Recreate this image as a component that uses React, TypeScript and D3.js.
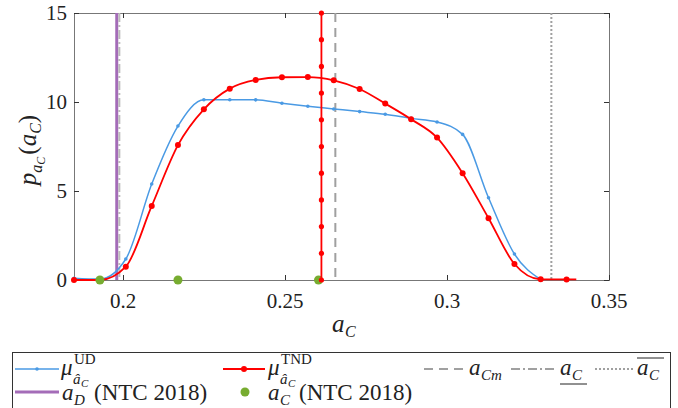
import React, { useEffect, useRef } from "react";
import * as d3 from "d3";

// a_C grid where the markers sit
const udX = [0.1848, 0.1928, 0.2008, 0.2088, 0.2169, 0.2249, 0.2329, 0.2409, 0.249, 0.257, 0.265, 0.273, 0.2809, 0.2889, 0.2969, 0.3048, 0.3128, 0.3208, 0.3289];
const udY = [0.1, 0.05, 1.18, 5.39, 8.65, 10.13, 10.13, 10.12, 9.93, 9.76, 9.61, 9.46, 9.31, 9.08, 8.88, 8.18, 4.62, 1.46, 0.03];

const tndX = [0.1848, 0.1928, 0.2008, 0.2088, 0.2169, 0.2249, 0.2329, 0.2409, 0.249, 0.257, 0.265, 0.273, 0.2809, 0.2889, 0.2969, 0.3048, 0.3128, 0.3208, 0.3289, 0.3369, 0.3399];
const tndY = [0, 0, 0.75, 4.16, 7.58, 9.59, 10.75, 11.24, 11.39, 11.4, 11.22, 10.73, 9.91, 9.03, 8.0, 6.0, 3.47, 0.9, 0.04, 0.03, 0.03];

// vertical red line (mean of TND)
const tndMeanX = 0.2612;
const tndMeanY = [0, 1.5, 3, 4.5, 6, 7.5, 9, 10.5, 12, 13.5, 15];

const ntcAc = [0.1928, 0.2169, 0.2603];
const ntcAd = 0.198;
const aCm = 0.2655;
const aCLow = 0.1988;
const aCHigh = 0.3322;

const xTicks = [0.2, 0.25, 0.3, 0.35];
const xTickLabels = ["0.2", "0.25", "0.3", "0.35"];
const yTicks = [0, 5, 10, 15];

const BLUE = "#4a9ae4";
const RED = "#ff0000";
const PURPLE = "#a46cb8";
const GREEN = "#77ac30";
const GRAY = "#a0a0a0";
const FONT = "Liberation Serif, DejaVu Serif, serif";

const App = () => {
  const svgRef = useRef(null);

  useEffect(() => {
    const svg = d3.select(svgRef.current);
    svg.selectAll("*").remove();

    const left = 74, right = 609, top = 13, bottom = 280;
    const x = d3.scaleLinear().domain([0.1848, 0.35]).range([left, right]);
    const y = d3.scaleLinear().domain([0, 15]).range([bottom, top]);

    const txt = (g, px, py, s, size, italic = false, anchor = "start") =>
      g.append("text")
        .attr("x", px).attr("y", py)
        .style("font-family", FONT)
        .style("font-size", size + "px")
        .style("font-style", italic ? "italic" : "normal")
        .attr("text-anchor", anchor)
        .attr("fill", "#222")
        .text(s);

    // axes box
    svg.append("rect")
      .attr("x", left + 0.5).attr("y", top + 0.5)
      .attr("width", right - left).attr("height", bottom - top)
      .attr("fill", "white").attr("stroke", "#777").attr("stroke-width", 1);

    // ticks (inside, both sides)
    xTicks.forEach((t, i) => {
      const px = Math.round(x(t)) + 0.5;
      svg.append("line").attr("x1", px).attr("x2", px).attr("y1", bottom).attr("y2", bottom - 5).attr("stroke", "#333");
      svg.append("line").attr("x1", px).attr("x2", px).attr("y1", top).attr("y2", top + 5).attr("stroke", "#333");
      txt(svg, x(t), 308, xTickLabels[i], 21, false, "middle");
    });
    yTicks.forEach((t) => {
      const py = Math.round(y(t)) + 0.5;
      svg.append("line").attr("x1", left).attr("x2", left + 5).attr("y1", py).attr("y2", py).attr("stroke", "#333");
      svg.append("line").attr("x1", right).attr("x2", right - 5).attr("y1", py).attr("y2", py).attr("stroke", "#333");
      txt(svg, 67, y(t) + 7, String(t), 21, false, "end");
    });

    // axis labels
    const xl = svg.append("g");
    txt(xl, 332, 332, "a", 25, true);
    txt(xl, 345, 337, "C", 16, true);

    const yl = svg.append("g").attr("transform", "translate(36,150) rotate(-90)");
    const yt = yl.append("text").style("font-family", FONT).style("font-size", "25px").attr("fill", "#222").attr("text-anchor", "middle");
    yt.append("tspan").style("font-style", "italic").text("p");
    yt.append("tspan").style("font-style", "italic").style("font-size", "16px").attr("dy", 6).text("a");
    yt.append("tspan").style("font-style", "italic").style("font-size", "12px").attr("dy", 3).text("C");
    yt.append("tspan").attr("dy", -9).attr("dx", 2).text("(");
    yt.append("tspan").style("font-style", "italic").text("a");
    yt.append("tspan").style("font-style", "italic").style("font-size", "16px").attr("dy", 5).text("C");
    yt.append("tspan").attr("dy", -5).text(")");

    // vertical reference lines
    svg.append("line").attr("x1", x(ntcAd)).attr("x2", x(ntcAd)).attr("y1", top).attr("y2", bottom)
      .attr("stroke", PURPLE).attr("stroke-width", 3);
    svg.append("line").attr("x1", x(aCLow)).attr("x2", x(aCLow)).attr("y1", top).attr("y2", bottom)
      .attr("stroke", "#bbb").attr("stroke-width", 2).attr("stroke-dasharray", "9,3,2,3");
    svg.append("line").attr("x1", x(aCm)).attr("x2", x(aCm)).attr("y1", top).attr("y2", bottom)
      .attr("stroke", GRAY).attr("stroke-width", 2).attr("stroke-dasharray", "9,6");
    svg.append("line").attr("x1", x(aCHigh)).attr("x2", x(aCHigh)).attr("y1", top).attr("y2", bottom)
      .attr("stroke", GRAY).attr("stroke-width", 2).attr("stroke-dasharray", "2,2");

    // density curves
    const line = d3.line().x((d) => x(d[0])).y((d) => y(d[1])).curve(d3.curveMonotoneX);
    const ud = udX.map((v, i) => [v, udY[i]]);
    const tnd = tndX.map((v, i) => [v, tndY[i]]);

    svg.append("path").attr("d", line(ud)).attr("fill", "none").attr("stroke", BLUE).attr("stroke-width", 1.5);
    svg.selectAll(".ud").data(ud).enter().append("circle")
      .attr("cx", (d) => x(d[0])).attr("cy", (d) => y(d[1])).attr("r", 1.8).attr("fill", BLUE);

    svg.append("path").attr("d", line(tnd)).attr("fill", "none").attr("stroke", RED).attr("stroke-width", 1.8);
    svg.selectAll(".tnd").data(tnd.slice(0, -1)).enter().append("circle")
      .attr("cx", (d) => x(d[0])).attr("cy", (d) => y(d[1])).attr("r", 3).attr("fill", RED);

    // NTC 2018 a_C points
    svg.selectAll(".ntc").data(ntcAc).enter().append("circle")
      .attr("cx", (d) => x(d)).attr("cy", y(0)).attr("r", 4.5).attr("fill", GREEN);

    // mean of TND
    svg.append("line").attr("x1", x(tndMeanX)).attr("x2", x(tndMeanX)).attr("y1", y(0)).attr("y2", y(15))
      .attr("stroke", RED).attr("stroke-width", 1.8);
    svg.selectAll(".tm").data(tndMeanY).enter().append("circle")
      .attr("cx", x(tndMeanX)).attr("cy", (d) => y(d)).attr("r", 2.6).attr("fill", RED);

    // legend
    const lg = svg.append("g");
    lg.append("rect").attr("x", 12.5).attr("y", 352.5).attr("width", 658).attr("height", 80)
      .attr("fill", "white").attr("stroke", "#333");
    const r1 = 369, r2 = 392, b1 = 375, b2 = 400;

    lg.append("line").attr("x1", 15).attr("x2", 59).attr("y1", r1).attr("y2", r1).attr("stroke", BLUE).attr("stroke-width", 1.5);
    lg.append("circle").attr("cx", 37).attr("cy", r1).attr("r", 1.8).attr("fill", BLUE);
    txt(lg, 61, b1, "μ", 23, true);
    txt(lg, 74, b1 - 11, "UD", 15);
    txt(lg, 73, b1 + 9, "â", 15, true);
    txt(lg, 81, b1 + 12, "C", 11, true);

    lg.append("line").attr("x1", 223).attr("x2", 265).attr("y1", r1).attr("y2", r1).attr("stroke", RED).attr("stroke-width", 1.8);
    lg.append("circle").attr("cx", 244).attr("cy", r1).attr("r", 3).attr("fill", RED);
    txt(lg, 268, b1, "μ", 23, true);
    txt(lg, 281, b1 - 11, "TND", 15);
    txt(lg, 280, b1 + 9, "â", 15, true);
    txt(lg, 288, b1 + 12, "C", 11, true);

    lg.append("line").attr("x1", 424).attr("x2", 466).attr("y1", r1).attr("y2", r1).attr("stroke", GRAY).attr("stroke-width", 2).attr("stroke-dasharray", "9,6");
    txt(lg, 469, b1, "a", 23, true);
    txt(lg, 481, b1 + 5, "Cm", 15, true);

    lg.append("line").attr("x1", 511).attr("x2", 557).attr("y1", r1).attr("y2", r1).attr("stroke", GRAY).attr("stroke-width", 2).attr("stroke-dasharray", "9,3,2,3");
    txt(lg, 560, b1, "a", 23, true);
    txt(lg, 572, b1 + 5, "C", 15, true);
    lg.append("line").attr("x1", 560).attr("x2", 587).attr("y1", b1 + 9).attr("y2", b1 + 9).attr("stroke", "#222").attr("stroke-width", 1);

    lg.append("line").attr("x1", 595).attr("x2", 633).attr("y1", r1).attr("y2", r1).attr("stroke", GRAY).attr("stroke-width", 2).attr("stroke-dasharray", "2,2");
    txt(lg, 637, b1, "a", 23, true);
    txt(lg, 649, b1 + 5, "C", 15, true);
    lg.append("line").attr("x1", 637).attr("x2", 664).attr("y1", b1 - 17).attr("y2", b1 - 17).attr("stroke", "#222").attr("stroke-width", 1);

    lg.append("line").attr("x1", 15).attr("x2", 59).attr("y1", r2).attr("y2", r2).attr("stroke", PURPLE).attr("stroke-width", 3);
    txt(lg, 62, b2, "a", 23, true);
    txt(lg, 74, b2 + 5, "D", 15, true);
    txt(lg, 94, b2, "(NTC 2018)", 23);

    lg.append("circle").attr("cx", 245).attr("cy", r2).attr("r", 4.5).attr("fill", GREEN);
    txt(lg, 268, b2, "a", 23, true);
    txt(lg, 280, b2 + 5, "C", 15, true);
    txt(lg, 299, b2, "(NTC 2018)", 23);
  }, []);

  return (
    <svg ref={svgRef} width={678} height={408}
      style={{ position: "absolute", left: 0, top: 0, background: "white" }} />
  );
};

export default App;
